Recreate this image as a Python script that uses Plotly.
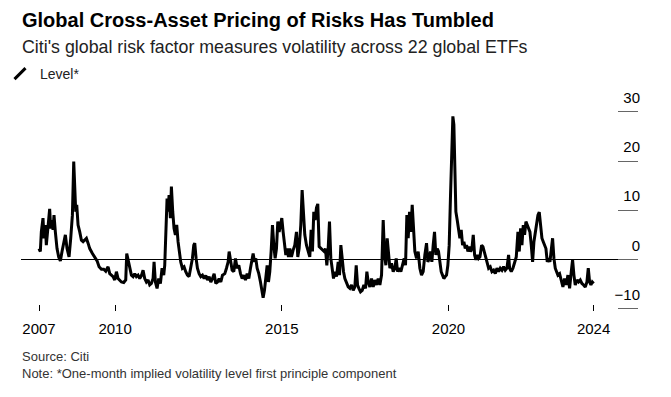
import pandas as pd
import plotly.graph_objects as go

years = [
    2007.72, 2007.76, 2007.79, 2007.84, 2007.87, 2007.91, 2007.94, 2007.99, 2008.04, 2008.07,
    2008.11, 2008.14, 2008.17, 2008.21, 2008.26, 2008.31, 2008.36, 2008.41, 2008.46, 2008.51,
    2008.56, 2008.62, 2008.67, 2008.72, 2008.76, 2008.79, 2008.82, 2008.85, 2008.89, 2008.94,
    2008.99, 2009.04, 2009.09, 2009.14, 2009.19, 2009.24, 2009.32, 2009.39, 2009.46, 2009.52,
    2009.59, 2009.66, 2009.72, 2009.79, 2009.84, 2009.89, 2009.94, 2009.99, 2010.04, 2010.09,
    2010.14, 2010.19, 2010.26, 2010.32, 2010.35,
    2010.44, 2010.49, 2010.54, 2010.59, 2010.64, 2010.69, 2010.74, 2010.79, 2010.84, 2010.89,
    2010.94, 2010.99, 2011.04, 2011.09, 2011.14, 2011.17, 2011.21, 2011.26, 2011.31, 2011.36,
    2011.41, 2011.46, 2011.49, 2011.52, 2011.56, 2011.59, 2011.62, 2011.66, 2011.69, 2011.73,
    2011.77, 2011.81, 2011.85, 2011.89, 2011.93, 2011.97, 2012.02, 2012.07, 2012.12, 2012.17,
    2012.22, 2012.27, 2012.32, 2012.36, 2012.39, 2012.43, 2012.47, 2012.52, 2012.57, 2012.62,
    2012.67, 2012.72, 2012.77, 2012.82, 2012.87, 2012.92, 2012.97, 2013.02, 2013.07, 2013.12,
    2013.17, 2013.22,
    2013.29, 2013.34, 2013.39, 2013.42, 2013.46, 2013.51, 2013.56, 2013.61, 2013.66, 2013.71,
    2013.76, 2013.81, 2013.86, 2013.91, 2013.96, 2014.01, 2014.06, 2014.11, 2014.14, 2014.18,
    2014.22, 2014.26, 2014.31, 2014.36, 2014.41, 2014.44, 2014.48, 2014.52, 2014.56, 2014.60,
    2014.64, 2014.68, 2014.72, 2014.76, 2014.80, 2014.84, 2014.88, 2014.92, 2014.96, 2015.00,
    2015.04, 2015.08, 2015.12, 2015.16, 2015.20, 2015.24, 2015.29, 2015.34, 2015.39, 2015.44,
    2015.48, 2015.52, 2015.57, 2015.61, 2015.65, 2015.69, 2015.74, 2015.79, 2015.84, 2015.88,
    2015.92, 2015.96, 2016.00, 2016.04, 2016.08,
    2016.12, 2016.17, 2016.22, 2016.27, 2016.31, 2016.35, 2016.39, 2016.43, 2016.47, 2016.51,
    2016.55, 2016.59, 2016.64, 2016.69, 2016.73, 2016.77, 2016.81, 2016.85, 2016.89, 2016.94,
    2016.99, 2017.04, 2017.09, 2017.14, 2017.19, 2017.23, 2017.27, 2017.31, 2017.36, 2017.41,
    2017.46, 2017.51, 2017.55, 2017.59, 2017.64, 2017.69, 2017.74, 2017.79, 2017.84, 2017.89,
    2017.94, 2017.99, 2018.04, 2018.08, 2018.12, 2018.16, 2018.20, 2018.24, 2018.29, 2018.34,
    2018.39, 2018.43, 2018.47, 2018.52, 2018.57, 2018.62, 2018.67, 2018.71, 2018.75, 2018.79,
    2018.83, 2018.87, 2018.91,
    2018.99, 2019.04, 2019.09, 2019.14, 2019.19, 2019.24, 2019.29, 2019.34, 2019.38, 2019.42,
    2019.46, 2019.50, 2019.54, 2019.58, 2019.62, 2019.66, 2019.70, 2019.74, 2019.78, 2019.82,
    2019.86, 2019.90, 2019.94, 2019.98, 2020.02, 2020.06, 2020.10, 2020.13, 2020.16, 2020.19,
    2020.22, 2020.26, 2020.30, 2020.34, 2020.38, 2020.42, 2020.46, 2020.50, 2020.54, 2020.58,
    2020.62, 2020.66, 2020.70, 2020.74, 2020.78, 2020.82, 2020.86, 2020.90, 2020.94, 2020.99,
    2021.03, 2021.07, 2021.11, 2021.15, 2021.20, 2021.25, 2021.30, 2021.35, 2021.40, 2021.45,
    2021.50, 2021.55, 2021.60, 2021.65, 2021.70, 2021.75, 2021.80,
    2021.83, 2021.88, 2021.93, 2021.98, 2022.03, 2022.08, 2022.12, 2022.16, 2022.20, 2022.24,
    2022.28, 2022.32, 2022.36, 2022.40, 2022.44, 2022.48, 2022.52, 2022.56, 2022.60, 2022.64,
    2022.68, 2022.72, 2022.76, 2022.80, 2022.84, 2022.88, 2022.92, 2022.96, 2023.00, 2023.04,
    2023.08, 2023.12, 2023.16, 2023.20, 2023.24, 2023.28, 2023.33, 2023.38, 2023.43, 2023.48,
    2023.53, 2023.58, 2023.63, 2023.68, 2023.72, 2023.76, 2023.80, 2023.85, 2023.90, 2023.95,
    2024.00, 2024.05, 2024.10, 2024.15, 2024.19, 2024.23, 2024.27, 2024.31, 2024.35,
]

level = [
    2.2, 1.6, 5.6, 8.4, 4.3, 7.0, 2.9, 6.3, 10.3, 6.3,
    8.0, 6.0, 9.0, 5.6, 2.2, 0.5, -0.3, 1.6, 3.3, 5.0,
    2.2, 0.5, 4.3, 9.0, 19.9, 13.8, 9.7, 11.1, 7.0, 5.6,
    3.9, 3.6, 3.9, 4.3, 3.3, 2.2, 1.2, 0.3, -0.3, -1.5,
    -2.0, -2.0, -2.4, -1.5, -2.9, -3.2, -3.5, -4.2, -2.5, -3.9,
    -4.2, -4.6, -4.7, -4.2, 1.2,
    -1.8, -3.2, -3.5, -2.9, -3.5, -3.2, -3.9, -3.3, -2.2, -3.9,
    -4.6, -4.2, -5.2, -4.9, -3.9, -0.5, -4.6, -5.9, -3.9, -4.9,
    -1.8, -3.2, -1.2, 4.3, 12.4, 9.7, 13.1, 8.4, 14.8, 9.7,
    6.3, 5.0, 7.0, 3.6, 1.6, -0.5, -1.8, -1.5, -2.5, -3.2,
    -3.5, -1.8, 0.2, 2.9, 3.3, 0.2, -1.8, -2.9, -3.5, -3.2,
    -3.9, -3.3, -4.2, -3.5, -4.6, -3.9, -2.9, -4.9, -4.6, -3.9,
    -4.6, -3.2,
    -2.9, -1.8, -0.5, 1.6, -0.5, -2.2, -2.5, 0.2, -1.8, -1.2,
    -2.9, -3.9, -3.2, -4.2, -2.9, -3.9, -1.8, 0.2, 1.2, -0.5,
    0.2, -1.8, -2.9, -4.6, -6.6, -7.8, -6.3, -3.9, -1.2, -4.6,
    -2.5, 1.6, 7.0, 2.9, 0.2, 2.2, 7.7, 5.6, 7.0, 8.4,
    5.6, 2.9, 0.9, 2.2, 0.5, 2.2, 0.5, 1.9, 2.9, 5.6,
    0.5, 2.2, 7.0, 14.1, 9.7, 5.0, 2.9, 1.6, 0.5, 6.0,
    1.6, 9.7, 8.0, 10.5, 11.3,
    2.6, 2.2, 1.9, 1.6, 2.2, -1.2, 2.2, 7.7, 0.2, -1.8,
    -3.9, -2.5, -3.5, -0.5, -3.2, 2.9, -0.5, -2.5, -3.9, -4.6,
    -5.6, -5.9, -5.2, -6.3, -5.6, -1.2, -5.2, -5.9, -6.6, -6.3,
    -5.2, -5.9, -2.5, -4.6, -5.6, -3.9, -5.6, -4.2, -5.2, -3.9,
    -5.2, -3.2, 8.0, 0.9, -1.2, 4.3, 0.5, -1.8, -0.8, -2.5,
    -1.8, 0.2, -2.5, -1.8, -2.5, -1.2, 0.2, -1.2, 9.0, 4.3,
    9.7, 5.6, 11.1,
    1.6, 0.2, 1.6, -1.8, -3.2, -2.5, 0.9, 3.3, -0.5, 0.2,
    1.6, -0.5, 2.9, 5.6, 0.9, 2.2, 1.6, -0.5, -2.5, -3.2,
    -3.9, -3.5, -3.2, -1.2, 2.9, 13.1, 23.3, 29.1, 27.4, 15.9,
    9.7, 8.0, 6.3, 4.3, 6.0, 2.9, 3.6, 2.2, 2.9, 1.6,
    2.6, 1.6, 2.2, 5.0, 0.9, -0.1, 0.9, 0.2, 0.5, 2.9,
    2.6, 1.6, 0.2, -0.5, -1.8, -1.5, -2.5, -2.2, -2.9, -1.8,
    -2.5, -1.8, -2.2, -1.5, -2.2, -1.8, 0.9,
    -1.8, -2.5, -1.8, -0.5, 0.5, 5.6, 1.6, 6.3, 2.9, 7.0,
    5.0, 7.7, 7.0, 6.3, 5.6, 2.9, -0.5, 3.6, 5.6, 7.7,
    9.0, 9.6, 6.3, 4.3, 3.6, 2.9, 2.2, -0.5, 0.2, -0.5,
    1.6, 4.3, 0.2, -1.8, -2.5, -3.2, -2.9, -4.6, -5.6, -3.9,
    -5.2, -3.2, -5.9, -2.5, -0.1, -3.2, -5.2, -4.2, -4.6, -4.2,
    -4.9, -5.2, -5.6, -4.6, -1.8, -4.6, -5.2, -4.6, -4.9,
]

x_tick_years = [2010, 2015, 2020]
x_tick_text = ["2007", "2010", "2015", "2020", "2024"]
y_tick_vals = [-10, 0, 10, 20, 30]

title = "Global Cross-Asset Pricing of Risks Has Tumbled"
subtitle = "Citi's global risk factor measures volatility across 22 global ETFs"
series_name = "Level*"
source = "Source: Citi"
note = "Note: *One-month implied volatility level first principle component"


def to_date(y):
    yr = int(y)
    start = pd.Timestamp(year=yr, month=1, day=1)
    span = (pd.Timestamp(year=yr + 1, month=1, day=1) - start).days
    return start + pd.Timedelta(days=(y - yr) * span)


dates = [to_date(y) for y in years]
tickvals = [dates[0]] + [pd.Timestamp(year=y, month=1, day=1) for y in x_tick_years] + [dates[-1]]

FONT = "Liberation Sans, Arial, sans-serif"
# The page body adds an 8px margin, so the figure is sized and laid out 8px smaller
OFF = 8
W, H = 671 - OFF, 397 - OFF
ML, MR, MT, MB = 21 - OFF, 33, 80 - OFF, 86
PW = W - ML - MR
PH = H - MT - MB
PB = H - MB


def py(page_y):
    return (PB - (page_y - OFF)) / PH


def px(page_x):
    return ((page_x - OFF) - ML) / PW


fig = go.Figure()
fig.add_trace(go.Scatter(
    x=dates, y=level, mode="lines",
    line=dict(color="#000000", width=3),
    showlegend=False, hoverinfo="skip",
))
fig.add_trace(go.Scatter(
    x=[None], y=[None], mode="markers", name=series_name,
    marker=dict(symbol="line-ne", size=11, color="#000000",
                line=dict(color="#000000", width=3)),
    showlegend=True,
))

fig.update_layout(
    width=W, height=H,
    margin=dict(l=ML, r=MR, t=MT, b=MB, autoexpand=False),
    paper_bgcolor="white", plot_bgcolor="white",
    font=dict(family=FONT, color="#000000"),
    showlegend=True,
    legend=dict(
        xref="paper", yref="paper", x=px(0), y=py(74),
        xanchor="left", yanchor="middle",
        font=dict(size=14, color="#222222"),
        bgcolor="rgba(0,0,0,0)", itemwidth=30,
    ),
    xaxis=dict(
        type="date",
        range=[to_date(2007.18), to_date(2025.68)],
        tickvals=tickvals, ticktext=x_tick_text,
        ticks="inside", ticklen=6, tickwidth=1, tickcolor="#000000",
        showgrid=False, zeroline=False, showline=False,
        tickfont=dict(size=15, color="#000000"),
        ticklabelstandoff=7,
    ),
    yaxis=dict(
        side="right",
        range=[-10.5, 36.5],
        tickvals=y_tick_vals,
        ticks="inside", ticklen=20, tickwidth=1, tickcolor="#666666",
        ticklabelposition="inside top",
        ticklabelshift=-3,
        ticklabelstandoff=-5,
        showgrid=False, showline=False,
        zeroline=True, zerolinecolor="#000000", zerolinewidth=1,
        tickfont=dict(size=15, color="#000000"),
    ),
    annotations=[
        dict(text="<b>" + title + "</b>", xref="paper", yref="paper",
             x=px(20), y=py(20), xanchor="left", yanchor="middle",
             showarrow=False, font=dict(size=20, color="#000000")),
        dict(text=subtitle, xref="paper", yref="paper",
             x=px(20), y=py(47), xanchor="left", yanchor="middle",
             showarrow=False, font=dict(size=17.8, color="#222222")),
        dict(text=source, xref="paper", yref="paper",
             x=px(20), y=py(356), xanchor="left", yanchor="middle",
             showarrow=False, font=dict(size=13, color="#333333")),
        dict(text=note, xref="paper", yref="paper",
             x=px(20), y=py(373), xanchor="left", yanchor="middle",
             showarrow=False, font=dict(size=13, color="#333333")),
    ],
)

fig.write_html("out.html")
